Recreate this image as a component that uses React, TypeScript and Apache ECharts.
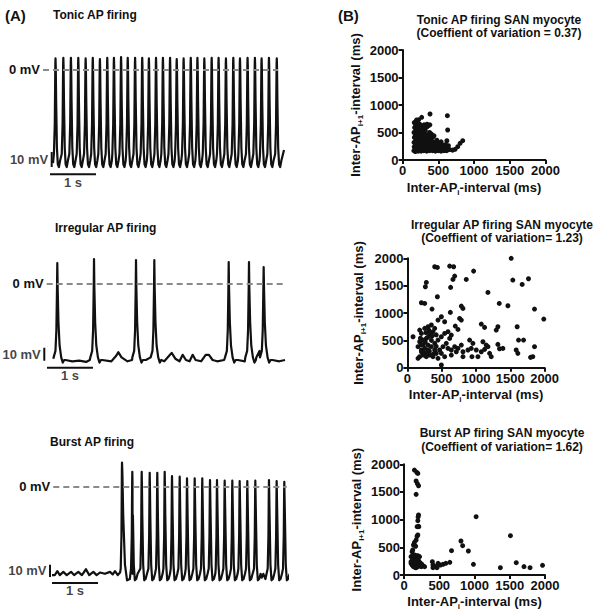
import { useEffect, useRef } from "react";
import * as echarts from "echarts";

const FONT = '"Liberation Sans", Arial, Helvetica, sans-serif';
const INK = "#111111";

// ---------------- Panel A data: membrane potential traces (ms, mV) ----------------
const tonicSpikeTimes = [120, 290, 455, 615, 775, 930, 1085, 1245, 1390, 1545, 1690, 1850, 2005, 2150, 2305, 2455, 2610, 2755, 2905, 3060, 3205, 3355, 3515, 3665, 3825, 3985, 4130, 4295, 4455, 4600, 4760, 4930];
const tonicSpikePeaks = [8.5, 9, 9, 9, 8.5, 9, 8, 9, 9, 9.5, 9, 9, 9, 8.5, 9, 9, 9, 8, 8.5, 9, 9, 8.5, 9, 9, 8.5, 9, 8.5, 9, 9, 8.5, 9, 8.5];
const tonicSpikeDecay = tonicSpikeTimes.map(() => 1);
const tonicBaseline: number[][] = [[65, -72], [5087, -62]];

const irregularSpikeTimes = [224, 1022, 1935, 2333, 3950, 4391, 4710];
const irregularSpikePeaks = [15.6, 18.7, 17.9, 17.9, 16.4, 16.4, 12.5];
const irregularSpikeDecay = [1, 1, 1, 1, 1, 1, 1];
const irregularBaseline: number[][] = [
  [137, -58], [400, -59], [550, -60], [700, -59.5], [850, -60.5], [930, -59], [1200, -59], [1400, -60],
  [1500, -56], [1550, -53], [1620, -57], [1750, -60], [1850, -59], [2150, -59], [2550, -60], [2650, -56],
  [2710, -53.5], [2790, -58], [2880, -60], [2950, -55], [3020, -59], [3100, -60], [3167, -55], [3230, -59],
  [3350, -60], [3450, -55], [3520, -55], [3600, -59], [3700, -60], [3850, -59], [4150, -59], [4300, -60],
  [4550, -57], [4620, -52], [4900, -59], [5050, -60], [5174, -59],
];

const burstSpikeTimes = [1522, 1746, 1950, 2124, 2289, 2450, 2609, 2776, 2935, 3102, 3267, 3435, 3587, 3754, 3920, 4080, 4246, 4420, 4717, 4884, 5050];
const burstSpikePeaks = [18.6, 11.5, 11.5, 10.7, 10.7, 11.5, 8.2, 7.7, 6.4, 6.4, 6.4, 5.1, 5.1, 4.6, 4.6, 4.4, 4.4, 4.6, 5.1, 4.4, 3.8];
const burstSpikeDecay = [2, 1, 1, 1, 1, 1, 1, 1, 1, 1, 1, 1, 1, 1, 1, 1, 1, 1, 1, 1, 1];
const burstBaseline: number[][] = [
  [0, -68], [60, -68], [116, -65], [170, -68], [246, -65.5], [320, -68], [413, -65.5], [480, -68],
  [572, -65.5], [650, -68], [739, -63.5], [810, -68], [899, -65.5], [970, -68], [1043, -66], [1150, -67],
  [1261, -65.5], [1320, -67.5], [1370, -65], [1430, -68], [1480, -66], [4560, -70], [4594, -67], [4640, -71],
];

const traceTitles = ["Tonic AP firing", "Irregular AP firing", "Burst AP firing"];

// ---------------- Panel B data: Poincaré plots (inter-AP interval i, i+1 in ms) ----------------
const tonicIntervals: number[][] = [
  [158, 170], [162, 240], [160, 320], [165, 410], [160, 500], [168, 590], [163, 680],
  [178, 155], [182, 210], [180, 280], [185, 360], [178, 440], [183, 520], [180, 610], [186, 700],
  [198, 180], [202, 250], [200, 330], [205, 400], [198, 470], [203, 550], [200, 630],
  [218, 160], [222, 220], [220, 300], [225, 370], [218, 450], [222, 530], [220, 600], [224, 730],
  [238, 190], [242, 260], [240, 340], [245, 420], [238, 500], [242, 580], [240, 650],
  [258, 160], [262, 230], [260, 310], [265, 390], [258, 470], [262, 550], [266, 620],
  [278, 200], [282, 270], [280, 350], [285, 430], [278, 510], [282, 590],
  [298, 170], [302, 240], [300, 320], [305, 400], [298, 480], [302, 560], [300, 640],
  [318, 210], [322, 290], [320, 370], [325, 450], [318, 530],
  [338, 160], [342, 250], [340, 330], [345, 410], [338, 600], [342, 650],
  [358, 200], [362, 280], [360, 360], [365, 460], [358, 620],
  [378, 170], [382, 240], [380, 320], [385, 420], [378, 500], [382, 640],
  [398, 210], [402, 290], [400, 380], [405, 470],
  [418, 170], [422, 250], [420, 330], [425, 420],
  [438, 200], [442, 280], [440, 440], [458, 160], [462, 240], [460, 330],
  [478, 210], [482, 290], [480, 360], [498, 170], [502, 250], [500, 320],
  [518, 200], [522, 280], [538, 160], [542, 240], [540, 330], [558, 190], [562, 270],
  [578, 170], [582, 230], [598, 200], [602, 280], [600, 180], [618, 170], [622, 240], [620, 350],
  [638, 200], [642, 260],
  [197, 727], [267, 776], [384, 836], [627, 806], [631, 545], [735, 194], [772, 242], [805, 303],
  [842, 351], [660, 190], [700, 180],
];

const irregularIntervals: number[][] = [
  [1513, 2000], [398, 1845], [437, 1833], [616, 1857], [674, 1845], [965, 1766], [689, 1675], [664, 1614],
  [630, 1468], [276, 1559], [262, 1480], [1537, 1602], [1673, 1522], [1765, 1626], [858, 1614], [1174, 1376],
  [204, 1188], [252, 1175], [437, 1297], [1339, 1175], [1465, 1133], [1853, 1072], [1988, 889], [359, 1072],
  [786, 1127], [810, 1084], [626, 1011],
  [495, 932], [543, 840], [446, 871], [761, 901], [786, 871], [698, 761], [737, 700], [1077, 798],
  [1125, 737], [1319, 749], [1295, 688], [1600, 749], [1853, 384], [1620, 505], [1828, 201],
  [82, 566], [179, 688], [204, 627], [252, 719], [301, 749], [349, 780], [398, 719], [373, 658],
  [325, 597], [276, 536], [228, 505], [179, 475], [155, 384], [204, 323], [252, 353], [301, 414],
  [349, 384], [398, 445], [446, 505], [495, 566], [543, 627], [592, 658], [640, 597], [616, 536],
  [567, 445], [519, 384], [470, 323], [422, 262], [373, 201], [325, 231], [276, 201], [228, 231],
  [179, 201], [155, 171], [204, 292], [301, 323], [398, 323], [495, 262], [592, 353], [689, 384],
  [640, 323], [737, 353], [786, 414], [713, 292], [446, 171], [543, 201], [640, 231], [495, 49],
  [810, 292], [883, 323], [931, 353], [907, 505], [955, 445], [1004, 323], [1077, 292], [1125, 335],
  [1174, 384], [1198, 262], [1149, 414], [1101, 475], [1343, 347], [1392, 353], [1319, 426], [1586, 323],
  [1610, 262], [1795, 189], [1693, 505], [810, 201], [1028, 201], [1222, 201], [941, 201],
  [230, 420], [260, 470], [300, 560], [330, 650], [350, 500], [240, 280], [280, 260], [320, 300],
  [380, 250], [200, 420], [270, 640], [310, 690], [360, 580], [420, 390], [190, 540], [420, 600],
];

const burstIntervals: number[][] = [
  [148, 1896], [196, 1836], [182, 1854], [172, 1698], [206, 1613], [172, 1457], [206, 1084], [196, 981],
  [186, 873], [210, 873], [196, 722], [172, 632], [148, 590], [134, 542], [124, 451], [115, 421],
  [190, 1650], [200, 1050], [185, 700], [165, 520], [205, 880],
  [100, 331], [124, 301], [148, 271], [172, 241], [196, 211], [100, 211], [124, 181], [148, 151],
  [172, 132], [220, 181], [244, 151], [268, 169], [292, 151], [148, 361], [196, 349], [220, 331],
  [115, 253], [134, 229], [163, 193], [182, 169], [210, 253], [229, 211], [249, 199], [115, 181],
  [134, 151], [163, 132], [196, 151], [220, 229], [244, 193], [124, 361], [172, 349], [100, 241],
  [134, 271], [182, 301], [210, 331],
  [402, 241], [411, 181], [449, 151], [468, 132], [483, 211], [516, 181], [554, 193], [593, 211],
  [650, 229], [411, 132],
  [674, 439], [808, 614], [832, 530], [913, 433], [1023, 1054], [985, 193], [1367, 132], [1510, 710],
  [1592, 223], [1702, 151], [1788, 132], [1965, 175],
];

const scatterTitles = [
  ["Tonic AP firing SAN myocyte", "(Coeffient of variation = 0.37)"],
  ["Irregular AP firing SAN myocyte", "(Coeffient of variation= 1.23)"],
  ["Burst AP firing SAN myocyte", "(Coeffient of variation= 1.62)"],
];

const intervalTicks = { min: 0, max: 2000, interval: 500 };

// ---------------- layout (pixels) ----------------
const PX_PER_MS = 0.046;
const PX_PER_MV = 1.3;

const traceLayout = [
  { x0: 50, y0: 69.5, xMin: -200, xMax: 5100, yMin: -95, yMax: 20, dash: [-152, 4957], vBar: [37, -63.5, -75], hBarY: -80.5, titleX: 53, titleY: 15 },
  { x0: 47, y0: 283.3, xMin: -100, xMax: 5180, yMin: -80, yMax: 25, dash: [-7, 5174], vBar: [-59, -49.5, -59.5], hBarY: -65, titleX: 55, titleY: 228 },
  { x0: 52, y0: 486.7, xMin: -100, xMax: 5110, yMin: -88, yMax: 25, dash: [28, 5102], vBar: [-43, -60, -69.5], hBarY: -74, titleX: 50, titleY: 442 },
];

// spike waveform shapes: [time offset from peak (ms), mV]; offset 0 is the peak
const shapes = [
  [[-35, -65], [-16, -42], [-4, 2], [0, 0], [5, 0], [14, -25], [30, -60], [50, -73], [74, -75], [100, -70]],
  [[-80, -57], [-40, -52], [-20, -36], [-7, -5], [0, 0], [8, -4], [25, -30], [50, -48], [85, -57], [120, -61], [150, -59]],
  [[-28, -63], [-12, -38], [-3, 0], [0, 0], [4, -2], [13, -22], [32, -60], [55, -72], [85, -71], [115, -67]],
];

const scatterLayout = [
  { left: 402.6, top: 50, width: 142.8, height: 110, titleX: 499, titleY: 20, yGap: 38, xGap: 18 },
  { left: 407.4, top: 258.3, width: 137.2, height: 109.4, titleX: 502, titleY: 225, yGap: 40, xGap: 17 },
  { left: 404, top: 464.3, width: 141, height: 110.7, titleX: 502, titleY: 433.3, yGap: 39, xGap: 16 },
];

function buildTrace(times: number[], peaks: number[], decay: number[], shape: number[][], knots: number[][]) {
  const pts: number[][] = [];
  times.forEach((t, i) => {
    shape.forEach(([dt, v]) => {
      const isPeak = dt === 0;
      // points right around the peak follow the peak height
      const isCap = Math.abs(dt) <= 5 && !isPeak;
      const val = isPeak ? peaks[i] : isCap ? peaks[i] - 6 + v : v;
      const off = dt > 0 ? dt * decay[i] : dt;
      pts.push([t + off, val]);
    });
  });
  knots.forEach((k) => pts.push([k[0], k[1]]));
  pts.sort((a, b) => a[0] - b[0]);
  return pts;
}

function buildOption() {
  const traces = [
    buildTrace(tonicSpikeTimes, tonicSpikePeaks, tonicSpikeDecay, shapes[0], tonicBaseline),
    buildTrace(irregularSpikeTimes, irregularSpikePeaks, irregularSpikeDecay, shapes[1], irregularBaseline),
    buildTrace(burstSpikeTimes, burstSpikePeaks, burstSpikeDecay, shapes[2], burstBaseline),
  ];
  const scatters = [tonicIntervals, irregularIntervals, burstIntervals];

  const grid: any[] = [];
  const xAxis: any[] = [];
  const yAxis: any[] = [];
  const series: any[] = [];
  const graphic: any[] = [];

  const labelStyle = { fontFamily: FONT, fontWeight: "bold", fontSize: 13, color: INK };

  traceLayout.forEach((L, i) => {
    grid.push({
      left: L.x0 + L.xMin * PX_PER_MS,
      top: L.y0 - L.yMax * PX_PER_MV,
      width: (L.xMax - L.xMin) * PX_PER_MS,
      height: (L.yMax - L.yMin) * PX_PER_MV,
    });
    xAxis.push({ type: "value", gridIndex: i, min: L.xMin, max: L.xMax, show: false });
    yAxis.push({ type: "value", gridIndex: i, min: L.yMin, max: L.yMax, show: false });
    series.push({
      type: "line",
      xAxisIndex: i,
      yAxisIndex: i,
      data: traces[i],
      showSymbol: false,
      symbol: "none",
      lineStyle: { color: INK, width: 2.2, join: "round" },
      silent: true,
      markLine: {
        silent: true,
        symbol: "none",
        lineStyle: { color: "#8a8a8a", type: [6, 4], width: 2 },
        label: { show: true, position: "start", formatter: "0 mV", distance: 3, ...labelStyle },
        data: [[{ coord: [L.dash[0], 0] }, { coord: [L.dash[1], 0] }]],
      },
    });
    series.push({
      type: "line",
      xAxisIndex: i,
      yAxisIndex: i,
      data: [[L.vBar[0], L.vBar[1]], [L.vBar[0], L.vBar[2]]],
      symbol: "none",
      lineStyle: { color: INK, width: 2 },
      silent: true,
    });
    series.push({
      type: "line",
      xAxisIndex: i,
      yAxisIndex: i,
      data: [[0, L.hBarY], [1000, L.hBarY]],
      symbol: "none",
      lineStyle: { color: INK, width: 2 },
      silent: true,
    });
    series.push({
      type: "scatter",
      xAxisIndex: i,
      yAxisIndex: i,
      symbolSize: 1,
      itemStyle: { color: "rgba(0,0,0,0)" },
      silent: true,
      data: [
        { value: [L.vBar[0], (L.vBar[1] + L.vBar[2]) / 2], label: { show: true, position: "left", distance: 3, formatter: "10 mV", ...labelStyle } },
        { value: [500, L.hBarY], label: { show: true, position: "bottom", distance: 1, formatter: "1 s", ...labelStyle } },
      ],
    });
    graphic.push({
      type: "text",
      x: L.titleX,
      y: L.titleY,
      style: { text: traceTitles[i], font: `bold 12px ${FONT}`, fill: INK, textVerticalAlign: "middle", textAlign: "left" },
    });
  });

  scatterLayout.forEach((S, j) => {
    const gi = j + 3;
    grid.push({ left: S.left, top: S.top, width: S.width, height: S.height });
    const axisCommon = {
      type: "value",
      gridIndex: gi,
      min: intervalTicks.min,
      max: intervalTicks.max,
      interval: intervalTicks.interval,
      axisLine: { show: true, onZero: false, lineStyle: { color: INK, width: 2 } },
      axisTick: { show: true, length: 4, lineStyle: { color: INK, width: 2 } },
      axisLabel: { fontFamily: FONT, fontWeight: "bold", fontSize: 13, color: INK, margin: 4, formatter: (v: number) => String(v) },
      splitLine: { show: false },
      nameLocation: "middle",
      nameTextStyle: {
        fontFamily: FONT,
        fontWeight: "bold",
        fontSize: 13,
        color: INK,
        lineHeight: 18,
        rich: { sub: { fontFamily: FONT, fontWeight: "bold", fontSize: 8, color: INK, verticalAlign: "bottom", lineHeight: 8 } },
      },
    };
    xAxis.push({ ...axisCommon, name: "Inter-AP{sub|i}-interval (ms)", nameGap: S.xGap });
    yAxis.push({ ...axisCommon, name: "Inter-AP{sub|i+1}-interval (ms)", nameGap: S.yGap });
    series.push({
      type: "scatter",
      xAxisIndex: gi,
      yAxisIndex: gi,
      data: scatters[j],
      symbolSize: 5,
      itemStyle: { color: INK, opacity: 1 },
      silent: true,
    });
    graphic.push({
      type: "text",
      x: S.titleX,
      y: S.titleY,
      style: { text: scatterTitles[j][0], font: `bold 12px ${FONT}`, fill: INK, textVerticalAlign: "middle", textAlign: "center" },
    });
    graphic.push({
      type: "text",
      x: S.titleX,
      y: S.titleY + 13.3,
      style: { text: scatterTitles[j][1], font: `bold 12px ${FONT}`, fill: INK, textVerticalAlign: "middle", textAlign: "center" },
    });
  });

  graphic.push({ type: "text", x: 5, y: 15, style: { text: "(A)", font: `bold 15px ${FONT}`, fill: INK, textVerticalAlign: "middle", textAlign: "left" } });
  graphic.push({ type: "text", x: 338, y: 15, style: { text: "(B)", font: `bold 15px ${FONT}`, fill: INK, textVerticalAlign: "middle", textAlign: "left" } });

  return { animation: false, backgroundColor: "#ffffff", grid, xAxis, yAxis, series, graphic };
}

export default function App() {
  const ref = useRef<HTMLDivElement>(null);
  useEffect(() => {
    if (!ref.current) return;
    const chart = echarts.init(ref.current, undefined, { renderer: "svg" });
    chart.setOption(buildOption() as any);
    return () => chart.dispose();
  }, []);
  return <div ref={ref} style={{ position: "fixed", left: 0, top: 0, width: 605, height: 612, background: "#fff" }} />;
}
